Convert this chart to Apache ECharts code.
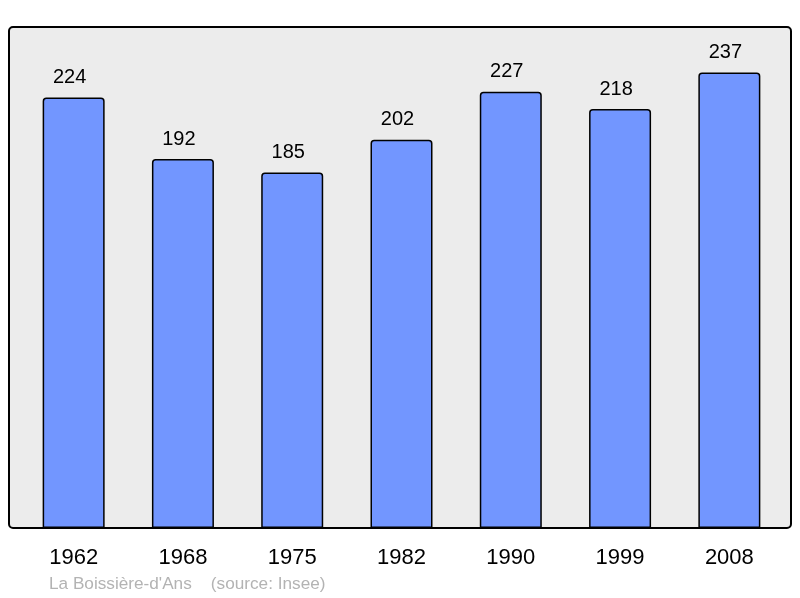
<!DOCTYPE html>
<html>
<head>
<meta charset="utf-8">
<script src="https://cdn.jsdelivr.net/npm/echarts@6/dist/echarts.min.js"></script>
<style>
  html, body { margin: 0; padding: 0; background: #fff; }
  #chart { width: 800px; height: 598px; }
</style>
</head>
<body>
<div id="chart"></div>
<script>
// données
const years = ["1962", "1968", "1975", "1982", "1990", "1999", "2008"];
const population = [224, 192, 185, 202, 227, 218, 237];
const footer = "La Boissière-d'Ans    (source: Insee)";

const chart = echarts.init(document.getElementById("chart"));
const font = "'Liberation Sans', Arial, sans-serif";

const option = {
  animation: false,
  backgroundColor: "#ffffff",
  grid: { left: 19, right: 16, top: 27, bottom: 70 },
  // cadre gris arrondi
  graphic: [
    {
      type: "rect",
      z: 0,
      shape: { x: 9, y: 27, width: 782, height: 501, r: 4 },
      style: { fill: "#ececec", stroke: "#000", lineWidth: 2 },
    },
    {
      type: "text",
      left: 49,
      top: 576,
      style: { text: footer, fill: "#b3b3b3", fontSize: 17.2, fontFamily: font },
    },
  ],
  xAxis: {
    type: "category",
    data: years,
    axisLine: { show: false },
    axisTick: { show: false },
    axisLabel: { color: "#000", fontSize: 22, fontFamily: font, margin: 19 },
  },
  yAxis: {
    type: "value",
    min: 0,
    max: 260.7,
    show: false,
    splitLine: { show: false },
  },
  series: [
    {
      type: "bar",
      data: population,
      barWidth: 62,
      z: 3,
      itemStyle: {
        color: "#7296ff",
        borderColor: "#000",
        borderWidth: 1.5,
        borderRadius: [3, 3, 0, 0],
      },
      label: {
        show: true,
        position: "top",
        distance: 10,
        offset: [-4, 0],
        color: "#000",
        fontSize: 20,
        fontFamily: font,
      },
    },
  ],
};

chart.setOption(option);
</script>
</body>
</html>
